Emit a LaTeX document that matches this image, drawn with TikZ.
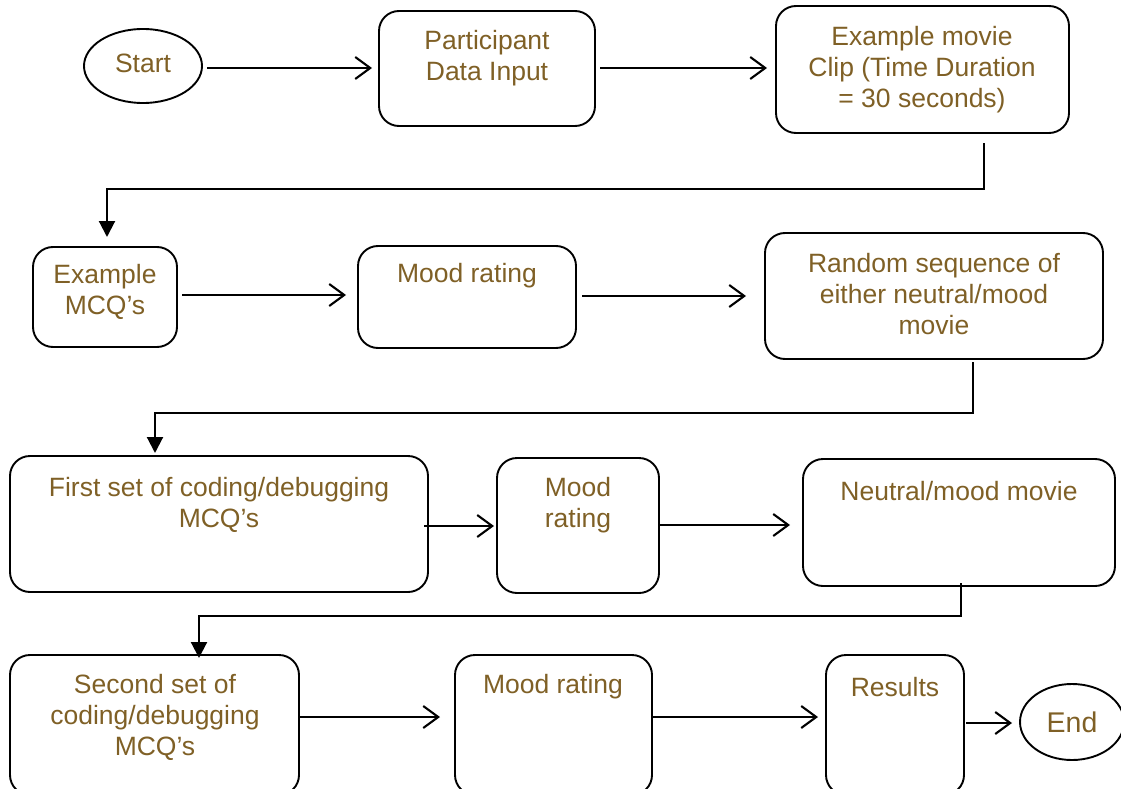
\documentclass[tikz,border=0pt]{standalone}
\usepackage{fontspec}
\setmainfont{Liberation Sans}
\usetikzlibrary{shapes.geometric,arrows.meta,calc}
\definecolor{textbrown}{RGB}{127,96,38}
\begin{document}
\begin{tikzpicture}[x=1pt,y=-1pt,
  every node/.style={inner sep=0pt, outer sep=0pt},
  stepbox/.style={draw, line width=1.9pt, rounded corners=20pt},
  terminal/.style={draw, line width=1.9pt, ellipse, text=textbrown},
  label/.style={text=textbrown, align=center, font=\fontsize{26.5}{31}\selectfont},
  oarr/.style={line width=2.1pt, -{Straight Barb[length=15pt,width=22pt]}},
  darr/.style={line width=2.1pt, -{Triangle[length=16pt,width=16pt]}}]
\useasboundingbox (0,0) rectangle (1121,789);

% terminals
\node[terminal, minimum width=118pt, minimum height=74pt] (start) at (143,66) {};
\node[label] (tstart) at (143,63.5) {Start};
\node[terminal, minimum width=104pt, minimum height=76pt, font=\fontsize{28.5}{33}\selectfont] (end) at (1072,722) {End};

% process boxes
\node[stepbox, minimum width=216pt, minimum height=115pt] (part)    at (487,68.5) {};
\node[stepbox, minimum width=293pt, minimum height=127pt] (movie)   at (922.5,69.5) {};
\node[stepbox, minimum width=144pt, minimum height=100pt] (mcq)     at (105,297) {};
\node[stepbox, minimum width=218pt, minimum height=102pt] (mood1)   at (467,297) {};
\node[stepbox, minimum width=338pt, minimum height=126pt] (rand)    at (934,296) {};
\node[stepbox, minimum width=418pt, minimum height=136pt] (first)   at (219,524) {};
\node[stepbox, minimum width=162pt, minimum height=135pt] (mood2)   at (578,525.5) {};
\node[stepbox, minimum width=312pt, minimum height=127pt] (neutral) at (959,522.5) {};
\node[stepbox, minimum width=289pt, minimum height=140pt] (second)  at (154.5,725) {};
\node[stepbox, minimum width=197pt, minimum height=140pt] (mood3)   at (553.5,725) {};
\node[stepbox, minimum width=138pt, minimum height=140pt] (results) at (895,725) {};

% box texts
\node[label] (tpart)    at (487,58.5)  {Participant\\Data Input};
\node[label] (tmovie)   at (922,69.5)  {Example movie\\Clip (Time Duration\\= 30 seconds)};
\node[label] (tmcq)     at (105,292) {Example\\MCQ’s};
\node[label] (tmood1)   at (467,276) {Mood rating};
\node[label] (trand)    at (934,294) {Random sequence of\\either neutral/mood\\movie};
\node[label] (tfirst)   at (219,505) {First set of coding/debugging\\MCQ’s};
\node[label] (tmood2)   at (578,505) {Mood\\rating};
\node[label] (tneutral) at (959,491) {Neutral/mood movie};
\node[label] (tsecond)  at (155,717) {Second set of\\coding/debugging\\MCQ’s};
\node[label] (tmood3)   at (553,687) {Mood rating};
\node[label] (tresults) at (895,687) {Results};

% first row
\draw[oarr] ($(start.east)+(5,2)$) -- ($(part.west)+(-7,-0.5)$);
\draw[oarr] ($(part.east)+(5,-0.5)$) -- ($(movie.west)+(-9,-1.5)$);
\draw[darr] ($(movie.south)+(61.5,10)$) |- ($(mcq.north)+(2,-58)$) -- ($(mcq.north)+(2,-10)$);

% second row
\draw[oarr] ($(mcq.east)+(5,-2)$) -- ($(mood1.west)+(-12,-2)$);
\draw[oarr] ($(mood1.east)+(6,-1)$) -- ($(rand.west)+(-19,0)$);
\draw[darr] ($(rand.south)+(39,3)$) |- ($(first.north)+(-64,-43)$) -- ($(first.north)+(-64,-3)$);

% third row
\draw[oarr] ($(first.east)+(-4,2)$) -- ($(mood2.west)+(-3,0.5)$);
\draw[oarr] ($(mood2.east)+(0,-0.5)$) -- ($(neutral.west)+(-13,2.5)$);
\draw[darr] ($(neutral.south)+(2,-3)$) |- ($(second.north)+(44.5,-39)$) -- ($(second.north)+(44.5,3)$);

% fourth row
\draw[oarr] ($(second.east)+(1,-8)$) -- ($(mood3.west)+(-15,-8)$);
\draw[oarr] ($(mood3.east)+(0,-8)$) -- ($(results.west)+(-8,-8)$);
\draw[oarr] ($(results.east)+(2,-2)$) -- ($(end.west)+(-8,1)$);
\end{tikzpicture}
\end{document}
